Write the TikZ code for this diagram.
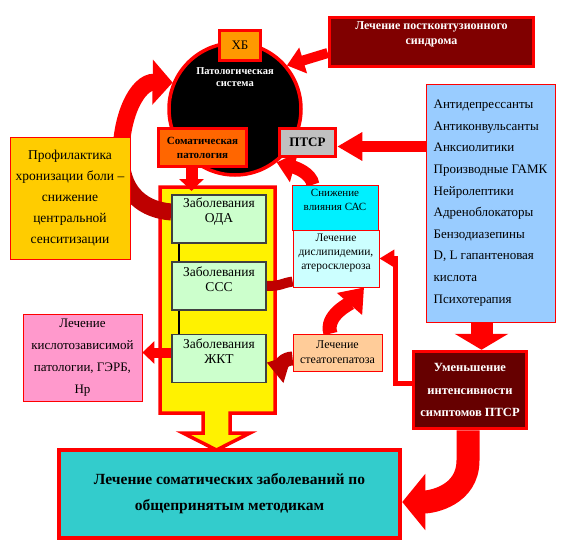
\documentclass[tikz,border=0pt]{standalone}
\usepackage{fontspec}
\setmainfont{Liberation Serif}
\usepackage{tikz}
\usetikzlibrary{positioning,arrows.meta,backgrounds}
\definecolor{drk}{RGB}{128,0,0}
\definecolor{drktwo}{RGB}{102,0,0}
\definecolor{bandred}{RGB}{190,0,0}
\definecolor{hbfill}{RGB}{255,153,0}
\definecolor{somfill}{RGB}{255,102,0}
\definecolor{greyfill}{RGB}{192,192,192}
\definecolor{skyfill}{RGB}{153,204,255}
\definecolor{goldfill}{RGB}{255,204,0}
\definecolor{cynfill}{RGB}{0,240,255}
\definecolor{pcynfill}{RGB}{204,255,255}
\definecolor{peachfill}{RGB}{255,204,153}
\definecolor{pinkfill}{RGB}{255,153,204}
\definecolor{mintfill}{RGB}{204,255,204}
\definecolor{tealfill}{RGB}{51,204,204}
\newcommand{\fsz}[2]{\fontsize{#1}{#2}\selectfont}

\begin{document}
\begin{tikzpicture}[x=1pt,y=-1pt,
			thick box/.style={draw=red, line width=3.5pt, inner sep=1pt, align=center},
			thin box/.style={draw=red, line width=0.8pt, inner sep=1pt, align=center},
			green box/.style={draw=black!75, line width=1.2pt, fill=mintfill, minimum width=94pt, minimum height=48pt},
			box size/.style 2 args={minimum width=#1pt, minimum height=#2pt},
			top text/.style={inner sep=0pt, align=center},
			block/.style={red, line width=#1}]
			
			\useasboundingbox (0,0) rectangle (562,546);
			
			\node[circle, draw=red, line width=3.5pt, fill=black, minimum size=132pt] (pat) at (235,109) {};
			\node[top text, font=\fsz{10.5}{12}\bfseries, text=white] (pattxt) at (235,77) {Патологическая\\система};
			\node[thick box, fill=hbfill, box size={41}{30}, font=\fsz{13}{15}] (xb) at (240,45.5) {ХБ};
			\node[thick box, fill=drk, box size={204}{49}] (lps) at (431.5,42) {};
			\node[top text, font=\fsz{12}{15}\bfseries, text=white, below=6pt of lps.north] (lpstxt) {Лечение постконтузионного\\синдрома};
			\node[thick box, fill=somfill, box size={88}{38}, font=\fsz{11}{14}\bfseries] (som) at (202.5,147.5) {Соматическая\\патология};
			\node[thick box, fill=greyfill, box size={56}{28}, font=\fsz{13}{15}\bfseries] (ptsr) at (307.5,142.5) {ПТСР};
			\node[thin box, fill=skyfill, box size={129}{238}, align=left, font=\fsz{13}{21.6}] (lst) at (490.5,203) {Антидепрессанты\\Антиконвульсанты\\Анксиолитики\\Производные ГАМК\\Нейролептики\\Адреноблокаторы\\Бензодиазепины\\D, L гапантеновая\\кислота\\Психотерапия};
			\node[thick box, fill=drktwo, box size={113}{77}, font=\fsz{12.5}{22.5}\bfseries, text=white] (ums) at (470,390) {Уменьшение\\интенсивности\\симптомов ПТСР};
			\node[thick box, line width=4.5pt, fill=tealfill, box size={341}{88}, font=\fsz{15.5}{26}\bfseries] (lsz) at (229.5,494) {Лечение соматических заболеваний по\\общепринятым методикам};
			\node[thin box, fill=goldfill, box size={120}{122}, font=\fsz{13.5}{21}] (prof) at (70,198) {Профилактика\\хронизации боли –\\снижение\\центральной\\сенситизации};
			\node[thin box, fill=cynfill, box size={86}{45}] (snz) at (335,207.5) {};
			\node[top text, font=\fsz{11}{14}, below=4pt of snz.north] (snztxt) {Снижение\\влияния САС};
			\node[thin box, fill=pcynfill, box size={86}{57}] (dsl) at (336,258.5) {};
			\node[top text, font=\fsz{11.5}{14}, below=4pt of dsl.north] (dsltxt) {Лечение\\дислипидемии,\\атеросклероза};
			\node[thin box, fill=peachfill, box size={89}{37}, font=\fsz{12}{15}] (stg) at (337.5,352.5) {Лечение\\стеатогепатоза};
			\node[thin box, fill=pinkfill, box size={119}{87}, font=\fsz{13}{22}] (pnk) at (82.5,357.5) {Лечение\\кислотозависимой\\патологии, ГЭРБ,\\Нр};
			\node[green box] (oda) at (219,219) {};
			\node[green box] (ccc) at (219,286) {};
			\node[green box] (zkt) at (219,358.5) {};
			\node[top text, font=\fsz{13.5}{15}, below=3pt of oda.north] (odatxt) {Заболевания\\ОДА};
			\node[top text, font=\fsz{13.5}{15}, below=5pt of ccc.north] (ccctxt) {Заболевания\\ССС};
			\node[top text, font=\fsz{13.5}{15}, below=5pt of zkt.north] (zkttxt) {Заболевания\\ЖКТ};
			\draw[line width=1.5pt] ([xshift=-40pt]oda.south) -- ([xshift=-40pt]ccc.north);
			\draw[line width=1.5pt] ([xshift=-40pt]ccc.south) -- ([xshift=-40pt]zkt.north);
			
			\begin{scope}[on background layer]
				\coordinate (ytop) at (217.5,191);
				\coordinate (bend) at (121,160);
				\filldraw[fill=yellow, draw=red, line width=3.5pt] (160,187) -- (275,187) -- (275,413) -- (230,413) -- (230,433) -- (250,433) -- (216.5,450) -- (183,433) -- (203,433) -- (203,413) -- (160,413) -- cycle;
				\draw[bandred, line width=17pt] ([yshift=7pt]oda.west) .. controls (145,210) and (123,195) .. (bend);
				\draw[block=17pt, -{Triangle[width=44pt,length=20pt]}] (bend) .. controls (120,115) and (138,82) .. (pat.157);
				\draw[block=10pt, -{Triangle[width=26pt,length=17pt]}] ([yshift=-11pt]lps.west) -- (pat.40);
				\draw[block=13pt, -{Triangle[width=30pt,length=18pt]}] ([xshift=-22pt]snz.north) .. controls +(-2,-12) and +(18,5) .. (pat.-52);
				\draw[block=12pt, -{Triangle[width=24pt,length=12pt]}] ([xshift=-11pt]som.south) -- ([xshift=-11pt]som.south |- ytop);
				\draw[block=11pt, -{Triangle[width=27pt,length=25pt]}] ([yshift=-4pt]ptsr.east -| lst.west) -- ([yshift=-4pt]ptsr.east);
				\draw[block=22pt, -{Triangle[width=53pt,length=16pt]}] ([xshift=-9pt]lst.south) -- ([xshift=-9pt]lst.south |- ums.north);
				\draw[block=5pt, -{Triangle[width=17pt,length=15pt]}] ([yshift=7pt]ums.west) -- ++(-16,0) |- (dsl.east);
				\draw[bandred, line width=10pt] (ccc.east) .. controls +(15,0) and +(-12,2) .. ([yshift=-23pt]dsl.west);
				\draw[bandred, line width=14pt, -{Triangle[width=28pt,length=22pt]}] ([yshift=-6pt]stg.west) .. controls +(-8,0) and +(10,3) .. ([yshift=-4pt]zkt.east);
				\draw[block=14pt, -{Triangle[width=32pt,length=22pt]}] ([xshift=-7pt]stg.north) .. controls +(-6,-18) and +(-14,16) .. ([xshift=28pt]dsl.south);
				\draw[block=10pt, -{Triangle[width=22pt,length=12pt]}] ([yshift=6pt]zkt.west) -- ([yshift=6pt]zkt.west -| pnk.east);
				\draw[block=23pt, -{Triangle[width=55pt,length=23pt]}] ([xshift=-2pt]ums.south) -- ++(0,30) .. controls +(0,35) and +(30,0) .. ([yshift=-8pt]lsz.east);
			\end{scope}
		\end{tikzpicture}
\end{document}
